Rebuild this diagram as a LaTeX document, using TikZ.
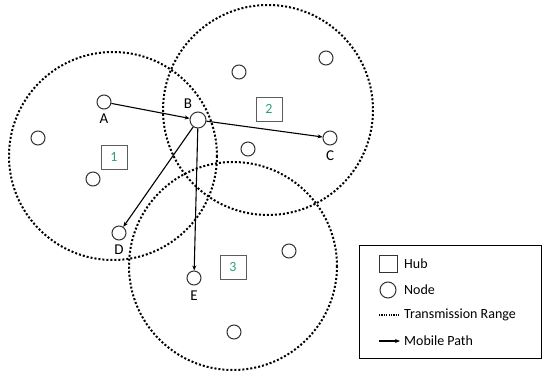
\documentclass[tikz,border=0pt]{standalone}
\usepackage{fontspec}
\setmainfont{Carlito}
\usetikzlibrary{arrows.meta}
\definecolor{hubgreen}{HTML}{2BA07A}
\definecolor{edge}{HTML}{333333}
\tikzset{
  txrange/.style={draw=black, line width=2pt, dash pattern=on 2pt off 2pt},
  sensor/.style={circle, draw=edge, line width=1pt, minimum size=14pt, inner sep=0pt},
  hub/.style={draw=edge!80, line width=0.9pt, minimum width=26pt, minimum height=24pt, inner sep=0pt, text=hubgreen, font=\fontsize{14}{16}\selectfont},
  lbl/.style={font=\fontsize{15}{17}\selectfont, inner sep=0pt},
  mpath/.style={draw=black, line width=1.1pt, -{Stealth[length=5pt,width=4pt]}},
  legtxt/.style={font=\fontsize{14}{16}\selectfont, anchor=west, inner sep=0pt}
}
\begin{document}
\begin{tikzpicture}[x=1pt,y=-1pt]
\useasboundingbox (0,0) rectangle (542,378);
% transmission ranges
\draw[txrange] (113,156) circle (104);
\draw[txrange] (268,110) circle (105);
\draw[txrange] (233,266) circle (104);
% hubs
\node[hub] (h1) at (114,157) {1};
\node[hub] (h2) at (269,109) {2};
\node[hub] (h3) at (233,267) {3};
% nodes
\node[sensor] (A) at (104,102) {};
\node[sensor, minimum size=16pt] (B) at (198,120) {};
\node[sensor] (C) at (330,138) {};
\node[sensor] (D) at (119,233) {};
\node[sensor] (E) at (194,278) {};
\node[sensor] (n1) at (38,138) {};
\node[sensor] (n2) at (93,179) {};
\node[sensor] (n3) at (239,72) {};
\node[sensor] (n4) at (248,149) {};
\node[sensor] (n5) at (326,58) {};
\node[sensor] (n6) at (289,251) {};
\node[sensor] (n7) at (234,332) {};
% labels
\node[lbl] (la) at (104,119) {A};
\node[lbl] (lb) at (188,104) {B};
\node[lbl] (lc) at (330,156) {C};
\node[lbl] (ld) at (119,250) {D};
\node[lbl] (le) at (194,296) {E};
% mobile path
\draw[mpath] (A) -- (B);
\draw[mpath] (B) -- (C);
\draw[mpath] (B) -- (D);
\draw[mpath] (B) -- (E);
% legend
\node[draw=black, line width=1pt, minimum width=182pt, minimum height=113pt, inner sep=0pt] (leg) at (450,301.5) {};
\node[draw=edge, line width=0.9pt, minimum width=18pt, minimum height=17pt, inner sep=0pt] (lhub) at (388,263.5) {};
\node[legtxt] (thub) at (404,264) {Hub};
\node[sensor, minimum size=16pt] (lnode) at (388,290) {};
\node[legtxt] (tnode) at (404,290) {Node};
\coordinate (r1) at (379,315);
\coordinate (r2) at (399,315);
\draw[draw=black, line width=1.2pt, dash pattern=on 1.2pt off 1.2pt] (r1) -- (r2);
\node[legtxt] (trange) at (404,315) {Transmission Range};
\coordinate (p1) at (379,341);
\coordinate (p2) at (400,341);
\draw[mpath] (p1) -- (p2);
\node[legtxt] (tpath) at (404,341) {Mobile Path};
\end{tikzpicture}
\end{document}
